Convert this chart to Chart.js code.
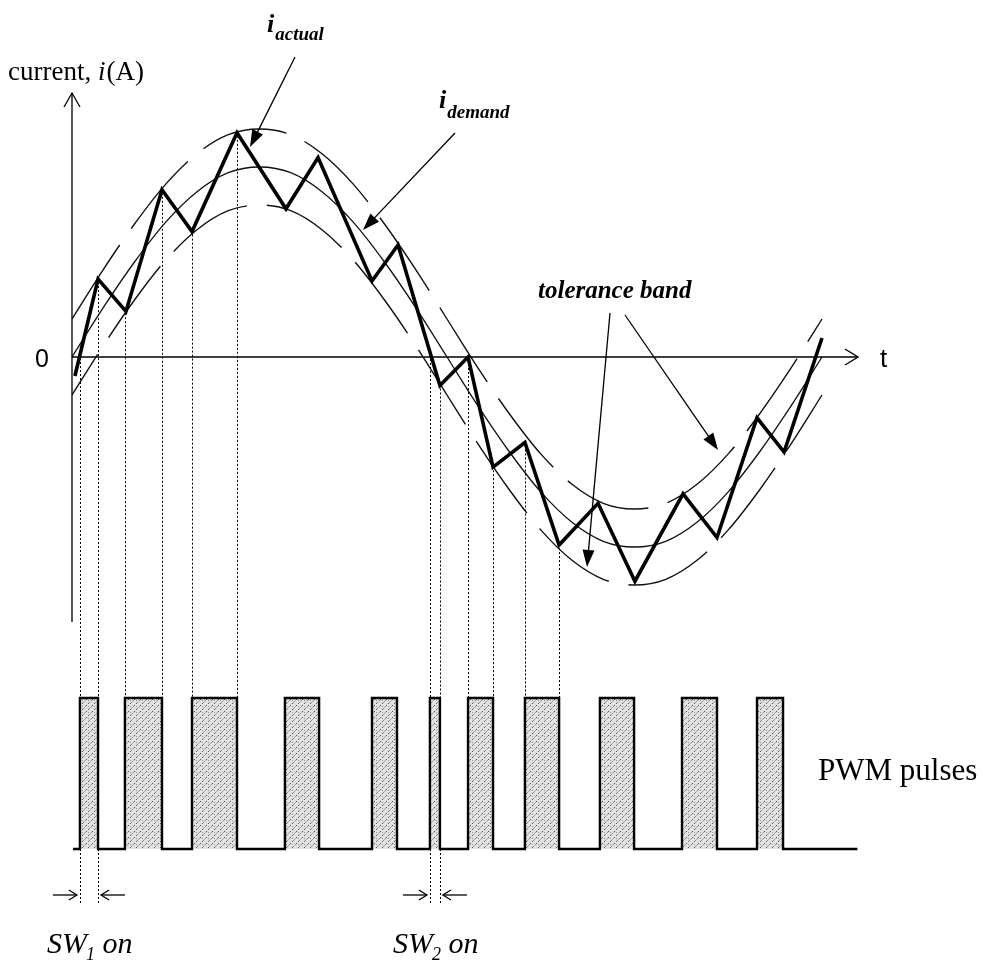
<!DOCTYPE html>
<html>
<head>
<meta charset="utf-8">
<title>Hysteresis current control</title>
<script src="https://cdn.jsdelivr.net/npm/chart.js@4.4.1/dist/chart.umd.min.js"></script>
<style>
  html, body { margin: 0; padding: 0; background: #fff; }
  #wrap { width: 983px; height: 961px; }
</style>
</head>
<body>
<div id="wrap"><canvas id="chart" width="983" height="961"></canvas></div>
<script>
/* ================================================================
   Hysteresis (tolerance band) current control — Chart.js sketch
   ================================================================ */

// ── Data (t in electrical degrees, i in p.u.) ──
const demandDeg = [0, 15, 30, 45, 60, 75, 90, 105, 120, 135, 150, 165, 180,
                   195, 210, 225, 240, 255, 270, 285, 300, 315, 330, 345, 360];
const iDemand   = [0, 0.26, 0.5, 0.71, 0.87, 0.97, 1, 0.97, 0.87, 0.71, 0.5, 0.26, 0,
                   -0.26, -0.5, -0.71, -0.87, -0.97, -1, -0.97, -0.87, -0.71, -0.5, -0.26, 0];
const bandUpper = [0.2, 0.46, 0.7, 0.91, 1.07, 1.17, 1.2, 1.17, 1.07, 0.91, 0.7, 0.46, 0.2,
                   -0.06, -0.3, -0.51, -0.67, -0.77, -0.8, -0.77, -0.67, -0.51, -0.3, -0.06, 0.2];
const bandLower = [-0.2, 0.06, 0.3, 0.51, 0.67, 0.77, 0.8, 0.77, 0.67, 0.51, 0.3, 0.06, -0.2,
                   -0.46, -0.7, -0.91, -1.07, -1.17, -1.2, -1.17, -1.07, -0.91, -0.7, -0.46, -0.2];

const actualDeg = [1.4, 12.5, 25.9, 43.2, 57.6, 79.2, 102.7, 118.1, 144, 156.5, 176.6,
                   190.1, 202.1, 217.4, 233.8, 252.5, 270.2, 293.3, 309.6, 328.8, 341.8, 360];
const iActual   = [-0.1, 0.41, 0.24, 0.88, 0.66, 1.18, 0.78, 1.05, 0.4, 0.59, -0.15,
                   0, -0.58, -0.45, -0.99, -0.77, -1.18, -0.72, -0.95, -0.32, -0.5, 0.1];

const pulseOn  = [3.8, 25.4, 57.6, 102.2, 144, 171.8, 190.1, 217.4, 253.4, 292.8, 328.8];
const pulseOff = [12.5, 43.2, 79.2, 118.6, 156, 176.6, 202.1, 233.8, 269.8, 309.6, 341.3];
const pwmStart = 0.5, pwmEnd = 377;

const guidePulses = [0, 1, 2, 5, 6, 7];   // pulses with dotted projection lines
const swPulses    = [0, 5];               // SW1 on / SW2 on markers

// ── Page frame (where the hidden scales sit) ─────────────────
const W = 983, H = 961;
const X0 = 72,  PX_DEG = 750 / 360;       // t = 0 and pixels per degree
const Y0 = 357, PX_AMP = 190;             // i = 0 and pixels per unit current
const PWM_BASE = 849, PX_PWM = 151;       // pulse baseline and pulse height

const pts = (xs, ys) => xs.map((v, k) => ({ x: v, y: ys[k] }));

function actualAt(t) {
  for (let k = 1; k < actualDeg.length; k++) {
    if (t <= actualDeg[k]) {
      const f = (t - actualDeg[k - 1]) / (actualDeg[k] - actualDeg[k - 1]);
      return iActual[k - 1] + f * (iActual[k] - iActual[k - 1]);
    }
  }
  return iActual[iActual.length - 1];
}

const pwmData = [{ x: pwmStart, y: 0 }];
pulseOn.forEach((on, k) => {
  pwmData.push({ x: on, y: 0 }, { x: on, y: 1 }, { x: pulseOff[k], y: 1 }, { x: pulseOff[k], y: 0 });
});
pwmData.push({ x: pwmEnd, y: 0 });

// ── Hatch fill for the pulses ────────────────────────────────
const canvas = document.getElementById('chart');
function hatchPattern() {
  const c = document.createElement('canvas');
  c.width = 6; c.height = 6;
  const g = c.getContext('2d');
  g.fillStyle = '#e2e2e2';
  g.fillRect(0, 0, 6, 6);
  g.strokeStyle = '#4a4a4a';
  g.lineWidth = 1;
  g.setLineDash([2, 1.6]);
  g.beginPath();
  g.moveTo(-1, 7); g.lineTo(7, -1);
  g.stroke();
  g.fillStyle = '#9a9a9a';
  g.fillRect(4, 4, 1, 1);
  return canvas.getContext('2d').createPattern(c, 'repeat');
}

// ── Drawing helpers ──────────────────────────────────────────
function seg(ctx, x1, y1, x2, y2, w) {
  ctx.lineWidth = w || 1;
  ctx.beginPath(); ctx.moveTo(x1, y1); ctx.lineTo(x2, y2); ctx.stroke();
}
function openHead(ctx, x, y, ang, len, half) {
  const a = Math.atan2(half, len), r = Math.hypot(len, half);
  ctx.beginPath();
  ctx.moveTo(x - r * Math.cos(ang - a), y - r * Math.sin(ang - a));
  ctx.lineTo(x, y);
  ctx.lineTo(x - r * Math.cos(ang + a), y - r * Math.sin(ang + a));
  ctx.stroke();
}
function pointer(ctx, x1, y1, x2, y2) {
  const ang = Math.atan2(y2 - y1, x2 - x1), len = 17, half = 6;
  seg(ctx, x1, y1, x2 - len * 0.6 * Math.cos(ang), y2 - len * 0.6 * Math.sin(ang), 1.3);
  const a = Math.atan2(half, len), r = Math.hypot(len, half);
  ctx.beginPath();
  ctx.moveTo(x2, y2);
  ctx.lineTo(x2 - r * Math.cos(ang - a), y2 - r * Math.sin(ang - a));
  ctx.lineTo(x2 - r * Math.cos(ang + a), y2 - r * Math.sin(ang + a));
  ctx.closePath(); ctx.fill();
}
function text(ctx, s, x, y, font) {
  ctx.font = font;
  ctx.fillText(s, x, y);
  return x + ctx.measureText(s).width;
}

const SERIF = '"Liberation Serif", "Times New Roman", serif';
const SANS  = '"Liberation Sans", Arial, sans-serif';

const overlay = {
  id: 'overlay',
  afterDatasetsDraw(chart) {
    const { ctx, scales: { x, y, y2 } } = chart;
    const ox = x.getPixelForValue(0), oy = y.getPixelForValue(0);
    ctx.save();
    ctx.strokeStyle = '#000';
    ctx.fillStyle = '#000';
    ctx.lineCap = 'butt';

    // axes
    seg(ctx, ox, 622, ox, 93, 1.3);
    openHead(ctx, ox, 93, -Math.PI / 2, 14, 8);
    seg(ctx, ox, oy, 858, oy, 1.4);
    openHead(ctx, 858, oy, 0, 13, 8);

    // dotted projections from the current to the pulses
    ctx.setLineDash([2, 2]);
    const top = y2.getPixelForValue(1), base = y2.getPixelForValue(0);
    guidePulses.forEach(k => {
      [pulseOn[k], pulseOff[k]].forEach(t => {
        const px = Math.round(x.getPixelForValue(t)) + 0.5;
        seg(ctx, px, y.getPixelForValue(actualAt(t)) + 3, px, top, 1);
      });
    });
    swPulses.forEach(k => {
      [pulseOn[k], pulseOff[k]].forEach(t => {
        const px = Math.round(x.getPixelForValue(t)) + 0.5;
        seg(ctx, px, base, px, 905, 1);
      });
    });
    ctx.setLineDash([]);

    // SW on markers
    swPulses.forEach(k => {
      const a = x.getPixelForValue(pulseOn[k]), b = x.getPixelForValue(pulseOff[k]);
      seg(ctx, a - 27, 895, a - 3, 895, 1.3);
      openHead(ctx, a - 3, 895, 0, 8, 5);
      seg(ctx, b + 27, 895, b + 3, 895, 1.3);
      openHead(ctx, b + 3, 895, Math.PI, 8, 5);
    });

    // annotation pointers
    pointer(ctx, 295, 57, 250, 147);
    pointer(ctx, 455, 133, 363, 230);
    pointer(ctx, 610, 313, 587, 567);
    pointer(ctx, 625, 315, 718, 450);

    // labels
    ctx.textAlign = 'left';
    ctx.textBaseline = 'alphabetic';
    let cx = text(ctx, 'current, ', 8, 80, '27px ' + SERIF);
    cx = text(ctx, 'i', cx, 80, 'italic 27px ' + SERIF);
    text(ctx, '(A)', cx + 1, 80, '27px ' + SERIF);

    text(ctx, '0', 35, 367, '25px ' + SANS);
    text(ctx, 't', 880, 367, '26px ' + SANS);

    cx = text(ctx, 'i', 267, 32, 'italic bold 26px ' + SERIF);
    text(ctx, 'actual', cx + 1, 40, 'italic bold 19px ' + SERIF);
    cx = text(ctx, 'i', 439, 108, 'italic bold 26px ' + SERIF);
    text(ctx, 'demand', cx + 1, 118, 'italic bold 19px ' + SERIF);

    text(ctx, 'tolerance band', 538, 298, 'italic bold 25px ' + SERIF);
    text(ctx, 'PWM pulses', 818, 780, '31px ' + SERIF);

    [['1', 47], ['2', 393]].forEach(([n, sx]) => {
      let p = text(ctx, 'SW', sx, 953, 'italic 30px ' + SERIF);
      p = text(ctx, n, p - 1, 960, 'italic 18px ' + SERIF);
      text(ctx, ' on', p, 953, 'italic 30px ' + SERIF);
    });

    ctx.restore();
  }
};

// ── Chart ────────────────────────────────────────────────────
new Chart(canvas, {
  type: 'line',
  data: {
    datasets: [
      {
        label: 'i actual',
        data: pts(actualDeg, iActual),
        borderColor: '#000',
        borderWidth: 3.6,
        borderJoinStyle: 'miter',
        tension: 0,
        pointRadius: 0,
        yAxisID: 'y'
      },
      {
        label: 'i demand',
        data: pts(demandDeg, iDemand),
        borderColor: '#111',
        borderWidth: 1.3,
        cubicInterpolationMode: 'monotone',
        pointRadius: 0,
        yAxisID: 'y'
      },
      {
        label: 'upper band',
        data: pts(demandDeg, bandUpper),
        borderColor: '#111',
        borderWidth: 1.4,
        borderDash: [88, 20],
        cubicInterpolationMode: 'monotone',
        pointRadius: 0,
        yAxisID: 'y'
      },
      {
        label: 'lower band',
        data: pts(demandDeg, bandLower),
        borderColor: '#111',
        borderWidth: 1.4,
        borderDash: [88, 20],
        borderDashOffset: 40,
        cubicInterpolationMode: 'monotone',
        pointRadius: 0,
        yAxisID: 'y'
      },
      {
        label: 'PWM pulses',
        data: pwmData,
        borderColor: '#000',
        borderWidth: 2.4,
        borderJoinStyle: 'miter',
        backgroundColor: hatchPattern(),
        fill: 'origin',
        tension: 0,
        pointRadius: 0,
        yAxisID: 'y2'
      }
    ]
  },
  options: {
    responsive: false,
    animation: false,
    devicePixelRatio: 1,
    layout: { padding: 0, autoPadding: false },
    plugins: { legend: { display: false }, tooltip: { enabled: false } },
    events: [],
    scales: {
      x:  { type: 'linear', display: false, bounds: 'data',
            min: -X0 / PX_DEG, max: (W - X0) / PX_DEG },
      y:  { type: 'linear', display: false, bounds: 'data',
            min: -(H - Y0) / PX_AMP, max: Y0 / PX_AMP },
      y2: { type: 'linear', display: false, bounds: 'data',
            min: -(H - PWM_BASE) / PX_PWM, max: PWM_BASE / PX_PWM }
    }
  },
  plugins: [overlay]
});
</script>
</body>
</html>
